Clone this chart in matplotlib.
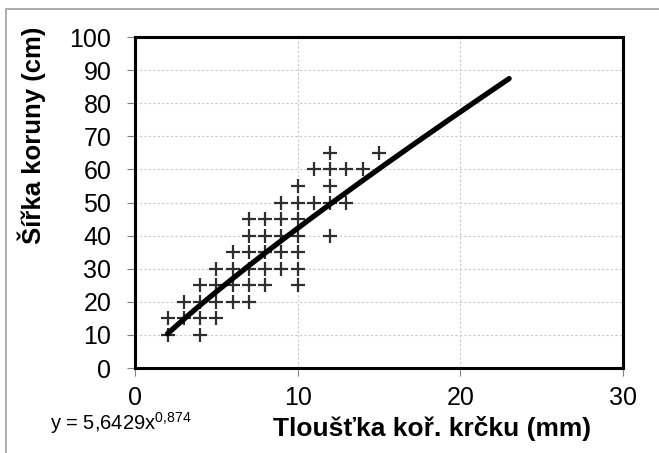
import numpy as np
import matplotlib.pyplot as plt
from matplotlib.patches import Rectangle

plt.rcParams['font.family'] = ['Liberation Sans', 'DejaVu Sans']

# tloušťka kořenového krčku (mm) a šířka koruny (cm)
tloustka = [2, 2, 3, 3, 4, 4, 4, 4, 5, 5, 5, 5, 6, 6, 6, 6, 7, 7, 7, 7, 7, 7,
            8, 8, 8, 8, 8, 9, 9, 9, 9, 9, 10, 10, 10, 10, 10, 10, 10,
            11, 11, 12, 12, 12, 12, 12, 13, 13, 14, 15]
sirka = [10, 15, 15, 20, 10, 15, 20, 25, 15, 20, 25, 30, 20, 25, 30, 35,
         20, 25, 30, 35, 40, 45, 25, 30, 35, 40, 45, 30, 35, 40, 45, 50,
         25, 30, 35, 40, 45, 50, 55, 50, 60, 40, 50, 55, 60, 65, 50, 60, 60, 65]

# mocninný trend y = a * x^b
a, b = 5.6429, 0.874
x_trend = np.linspace(2, 23, 200)
y_trend = a * x_trend ** b

fig = plt.figure(figsize=(6.59, 4.53), dpi=100)
ax = fig.add_axes([135 / 659, 85 / 453, 488 / 659, 331 / 453])

# šedý rámeček grafu
fig.patches.append(Rectangle((6 / 659, -0.1), 1.2, 1.1 - 9 / 453,
                             transform=fig.transFigure, fill=False,
                             edgecolor='#a0a0a0', linewidth=1.2))

ax.plot(tloustka, sirka, linestyle='none', marker='+', color='#2e2e2e',
        markersize=9.5, markeredgewidth=1.6, zorder=3)
ax.plot(x_trend, y_trend, color='black', linewidth=3.8,
        solid_capstyle='round', zorder=4)

ax.set_xlim(0, 30)
ax.set_ylim(0, 100)
ax.set_xticks([0, 10, 20, 30])
ax.set_yticks(np.arange(0, 101, 10))
ax.grid(True, color='#c8c8c8', linestyle=(0, (2, 2)), linewidth=0.8)
ax.set_axisbelow(True)

for s in ax.spines.values():
    s.set_linewidth(2.2)
    s.set_color('black')
ax.tick_params(direction='out', length=6, width=0.8, color='#808080',
               labelsize=18)
ax.tick_params(axis='y', pad=11)
ax.tick_params(axis='x', pad=7)

ax.set_ylabel('Šířka koruny (cm)', fontsize=18.5, fontweight='bold')
ax.yaxis.set_label_coords(-0.182, 0.704)
ax.set_xlabel('Tloušťka koř. krčku (mm)', fontsize=19, fontweight='bold',
              va='top')
ax.xaxis.set_label_coords(0.609, -0.145)

fig.text(50 / 659, 1 - 430 / 453, 'y = 5,6429x$\\mathregular{^{0{,}874}}$',
         fontsize=14.5, ha='left', va='baseline')

fig.savefig('out.png', dpi=100)
